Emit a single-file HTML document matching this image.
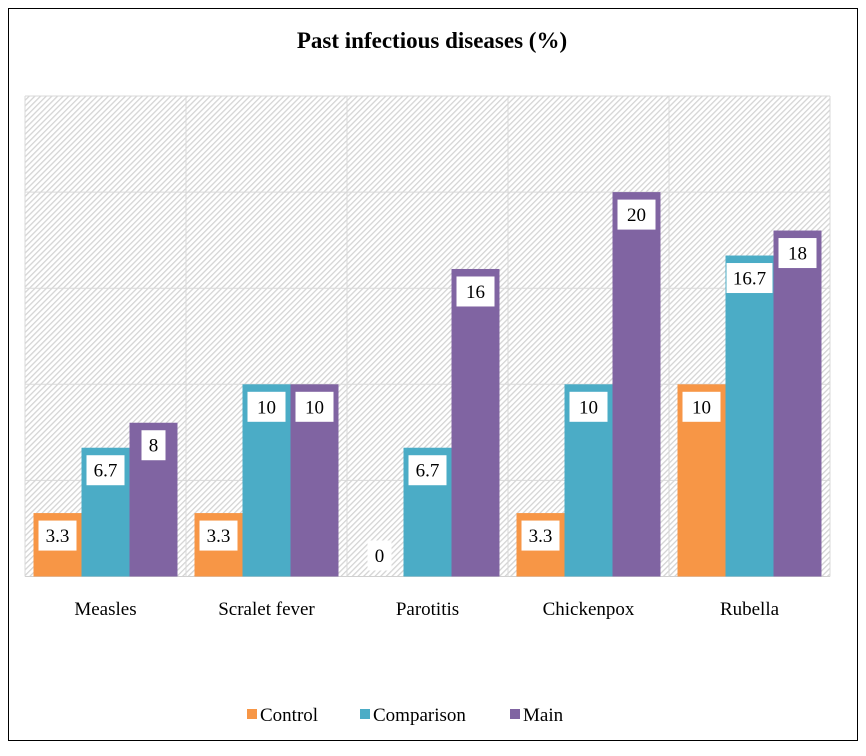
<!DOCTYPE html>
<html><head><meta charset="utf-8"><style>
body{margin:0;background:#fff}
svg text{font-family:"Liberation Serif",serif}
</style></head><body>
<svg width="866" height="751" xmlns="http://www.w3.org/2000/svg">
<defs><pattern id="hatch" width="4" height="4" patternUnits="userSpaceOnUse" patternTransform="rotate(-45)">
<rect width="4" height="4" fill="#fff"/><rect width="4" height="1.3" fill="#d4d4d4"/></pattern></defs>
<rect x="8.5" y="8.5" width="849" height="732" fill="#fff" stroke="#000"/>
<text x="432" y="48" text-anchor="middle" font-size="23" font-weight="bold">Past infectious diseases (%)</text>
<rect x="25" y="96" width="805" height="481" fill="url(#hatch)"/>
<g id="grid"></g><g id="bars"></g><g id="labels"></g><g id="cats"></g>
<g id="legend"></g>
</svg>
<script>
const categories=["Measles","Scralet fever","Parotitis","Chickenpox","Rubella"];
const seriesNames=["Control","Comparison","Main"];
const control=[3.3,3.3,0,3.3,10];
const comparison=[6.7,10,6.7,10,16.7];
const mainS=[8,10,16,20,18];
const gridTicks=[0,5,10,15,20,25];
const colors=["#f79646","#4bacc6","#8064a2"];
const NS="http://www.w3.org/2000/svg";
const x0=25,x1=830,y0=576.5,yTop=96,max=25;
const y=v=>y0-(v/max)*(y0-yTop);
const catW=(x1-x0)/categories.length;
function mk(t,a,p){const e=document.createElementNS(NS,t);for(const k in a)e.setAttribute(k,a[k]);p.appendChild(e);return e;}
const grid=document.getElementById('grid');
gridTicks.forEach(t=>{const l=mk('line',{x1:x0,x2:x1,y1:y(t),y2:y(t),stroke:t==0?'#d0d0d0':'#d9d9d9','stroke-width':1},grid);

});
for(let i=0;i<=categories.length;i++){const l=mk('line',{x1:x0+i*catW,x2:x0+i*catW,y1:yTop,y2:y0,stroke:'#d9d9d9'},grid);

}
const series=[control,comparison,mainS];
const bars=document.getElementById('bars'),labels=document.getElementById('labels'),cats=document.getElementById('cats');
categories.forEach((c,i)=>{
 const gx=x0+i*catW+8.5;
 series.forEach((s,j)=>{
  const v=s[i],bx=gx+j*48,top=y(v);
  const r=mk('rect',{x:bx,y:top,width:48,height:y0-top,fill:colors[j]},bars);
  
  
  const cy=Math.min(top+22.5,y0-21);
  const txt=String(v);const w=txt.length>3?46:(txt.length>1?38:24);
  const b=mk('rect',{x:bx+24-w/2,y:cy-15,width:w,height:30,fill:'#fff'},labels);
  
  
  const t=mk('text',{x:bx+24,y:cy+6.5,'text-anchor':'middle','font-size':19},labels);t.textContent=txt;
  
  
 });
 const t=mk('text',{x:x0+i*catW+catW/2,y:615,'text-anchor':'middle','font-size':19},cats);t.textContent=c;
 
 
});
const lg=document.getElementById('legend');const lx=[247,360,510];
seriesNames.forEach((n,j)=>{
 const r=mk('rect',{x:lx[j],y:709,width:10,height:10,fill:colors[j]},lg);
 
 
 const t=mk('text',{x:lx[j]+13,y:721,'font-size':19},lg);t.textContent=n;
 
 
});
</script>
</body></html>
